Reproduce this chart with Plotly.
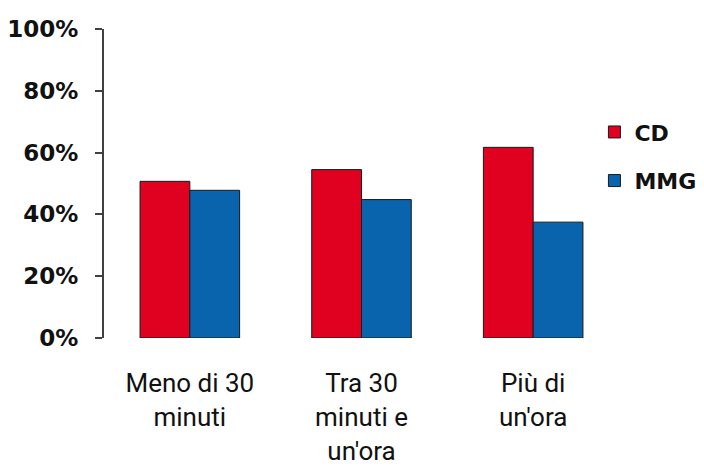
import plotly.graph_objects as go

categories = ["Meno di 30<br>minuti", "Tra 30<br>minuti e<br>un'ora", "Più di<br>un'ora"]
cd_values = [50.7, 54.5, 61.7]
mmg_values = [47.8, 44.8, 37.5]
y_ticks = [0, 20, 40, 60, 80, 100]
y_tick_labels = ["0%", "20%", "40%", "60%", "80%", "100%"]

fig = go.Figure()
fig.add_trace(go.Bar(
    x=categories, y=cd_values, name="CD", legendgroup="cd",
    marker=dict(color="#E00020", line=dict(color="#1a1a1a", width=1)),
))
fig.add_trace(go.Bar(
    x=categories, y=mmg_values, name="MMG", legendgroup="mmg",
    marker=dict(color="#0A63AD", line=dict(color="#1a1a1a", width=1)),
))

fig.update_layout(
    width=704, height=466,
    margin=dict(l=96, r=93, t=21, b=136, autoexpand=False),
    paper_bgcolor="white", plot_bgcolor="white",
    barmode="group", bargap=0.42, bargroupgap=0,
    showlegend=True,
    legend=dict(
        xref="container", yref="container",
        x=0.833, xanchor="left", y=0.681, yanchor="middle",
        font=dict(family="DejaVu Sans", size=22, color="#111111", weight="bold"),
        tracegroupgap=17, bgcolor="rgba(0,0,0,0)",
    ),
    xaxis=dict(
        showline=False, showgrid=False, ticks="", automargin=False,
        ticklabelstandoff=27,
        tickfont=dict(family="Roboto", size=26, color="#111111"),
    ),
    yaxis=dict(
        range=[0, 100], tickvals=y_ticks, ticktext=y_tick_labels,
        showgrid=False, zeroline=False, automargin=False,
        showline=True, linecolor="#404040", linewidth=2,
        ticks="outside", ticklen=7, tickwidth=2, tickcolor="#404040",
        ticklabelstandoff=12,
        tickfont=dict(family="DejaVu Sans", size=23, color="#111111", weight="bold"),
    ),
)

fig.write_html("out.html")
